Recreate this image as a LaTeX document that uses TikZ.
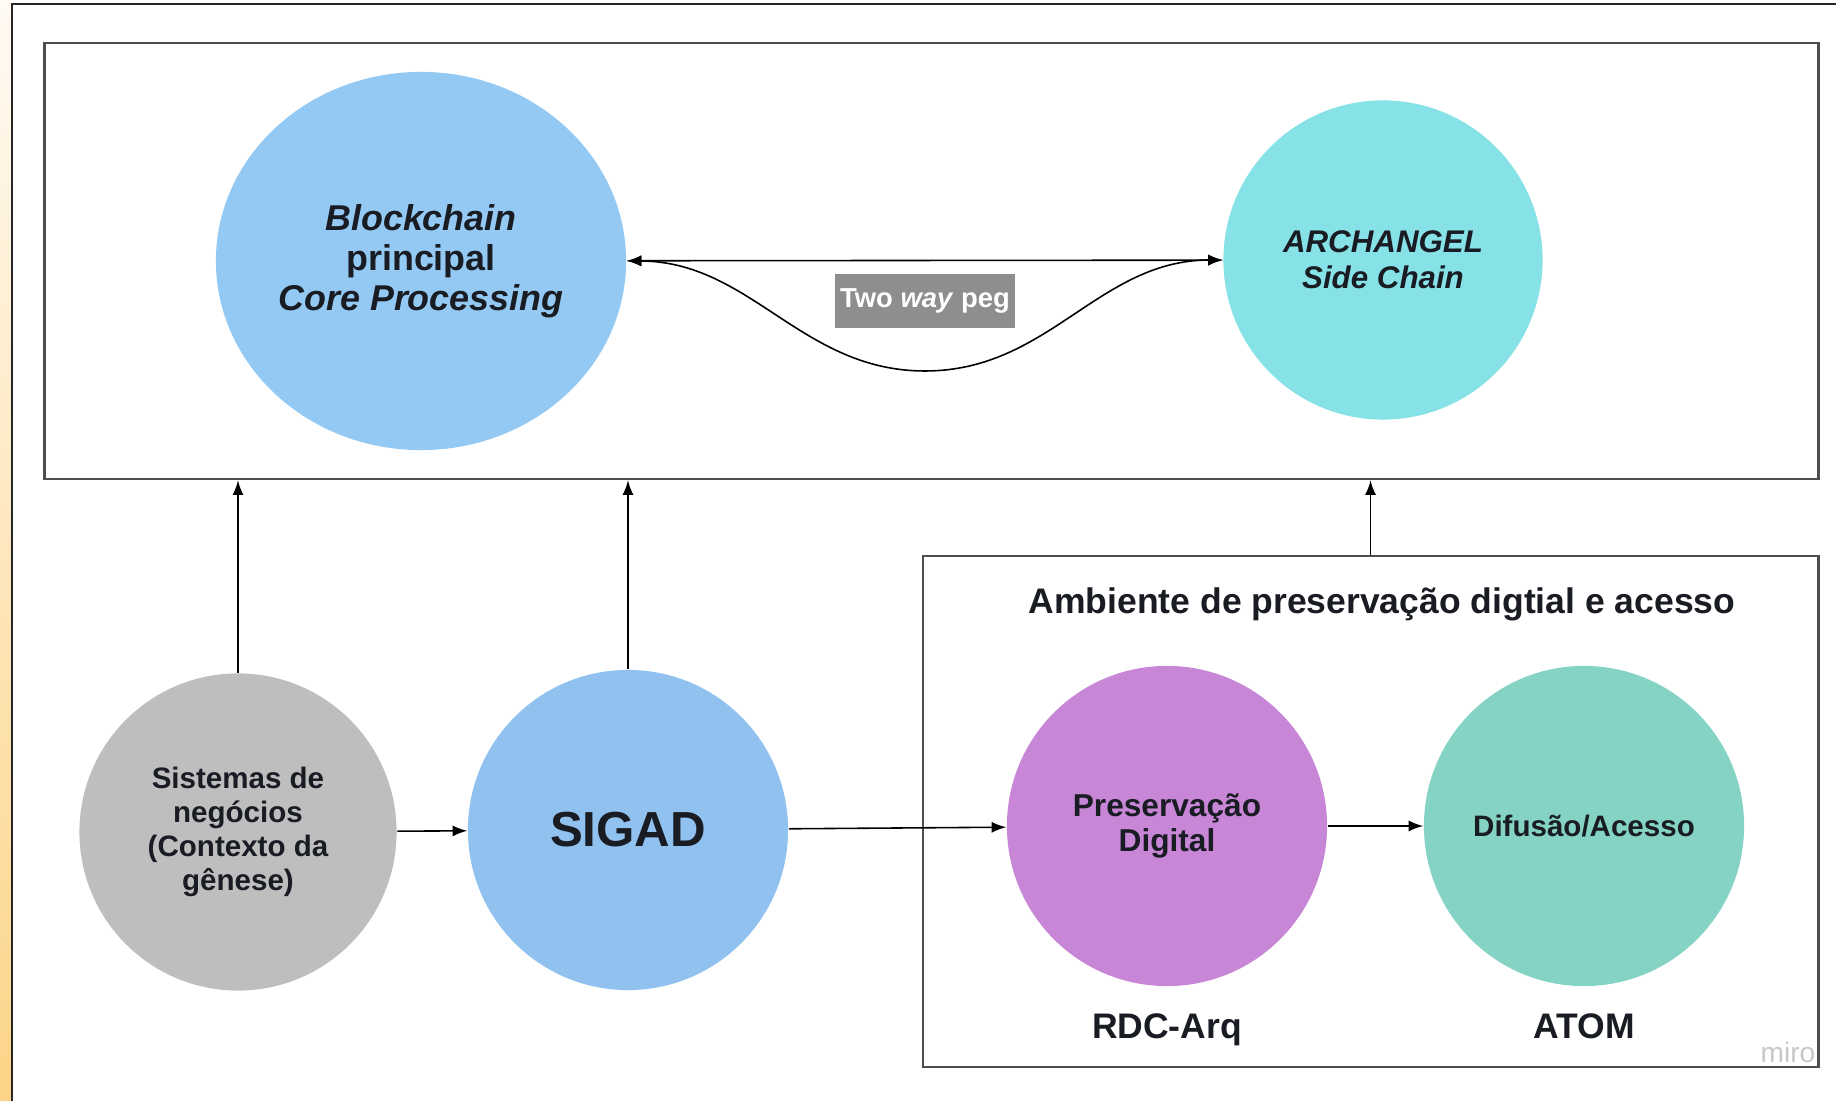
\documentclass[tikz,border=0pt]{standalone}
\usepackage{fontspec}
\setmainfont{Liberation Sans}
\usepackage{tikz}
\usetikzlibrary{shapes.geometric,positioning,arrows}

\definecolor{azulbc}{HTML}{93C9F3}
\definecolor{azulsig}{HTML}{90C1EF}
\definecolor{ciano}{HTML}{86E2E6}
\definecolor{cinza}{HTML}{BEBEBE}
\definecolor{roxo}{HTML}{C886D6}
\definecolor{verde}{HTML}{85D3C4}
\definecolor{rotulo}{HTML}{8E8E8E}
\definecolor{texto}{HTML}{1A1C24}
\definecolor{borda}{HTML}{4E4E4E}
\definecolor{faixatopo}{HTML}{FFFAF3}
\definecolor{faixabase}{HTML}{FCD487}

\begin{document}
\begin{tikzpicture}[
x=0.01cm, y=-0.01cm,
bola/.style={
  circle,
  minimum size=3.2cm,
  inner sep=0pt,
  align=center,
  text=texto,
  font=\bfseries\fontsize{8.4}{9.6}\selectfont
},
caixa/.style={
  draw=borda,
  line width=0.7pt,
  inner sep=0pt
},
seta/.style={
  -latex,
  line width=0.45pt
},
titulo/.style={
  text=texto,
  font=\bfseries\fontsize{10.1}{12}\selectfont
}
]
\useasboundingbox (0,0) rectangle (1836,1101);

% moldura da captura
\shade[top color=faixatopo, middle color=orange!12, bottom color=faixabase] (0,0) rectangle (11,1101);
\draw[line width=0.8pt, black!85] (12,1110) -- (12,4) -- (1845,4);

% caixas
\node[caixa, minimum width=17.73cm, minimum height=4.36cm] (topo) at (931.5,261) {};
\node[caixa, minimum width=8.95cm, minimum height=5.11cm] (amb) at (1370.5,811.5) {};

% cadeia principal e side chain
\node[bola, ellipse, fill=azulbc, minimum width=4.1cm, minimum height=3.78cm,
  font=\bfseries\fontsize{10.2}{11.4}\selectfont] (bc) at (421,261)
  {\textit{Blockchain}\\principal\\\textit{Core Processing}};
\node[bola, fill=ciano, minimum size=3.19cm,
  font=\bfseries\itshape\fontsize{8.9}{10.2}\selectfont] (arch) at (1383,260)
  {ARCHANGEL\\Side Chain};

\coordinate (fundo) at (925,371);
\draw[latex-latex, line width=0.45pt] (bc) -- (arch);
\draw[latex-latex, line width=0.45pt] (bc.east) to[out=0,in=180] (fundo)
  to[out=0,in=180] (arch.west);
\node[fill=rotulo, text=white, minimum width=1.79cm, minimum height=0.53cm,
  inner sep=0pt, font=\bfseries\fontsize{7.8}{9}\selectfont] (peg) at (925,301)
  {Two \textit{way} peg};

% sistemas de origem
\node[bola, fill=cinza, minimum size=3.17cm] (sist) at (238,832)
  {Sistemas de\\negócios\\(Contexto da\\gênese)};
\node[bola, fill=azulsig, font=\bfseries\fontsize{14}{16}\selectfont] (sigad) at (628,830) {SIGAD};

% ambiente de preservacao
\node[titulo] (ambtit) at (1382,604) {Ambiente de preservação digtial e acesso};
\node[bola, fill=roxo, font=\bfseries\fontsize{9}{9.8}\selectfont] (pres) at (1167,826)
  {Preservação\\Digital};
\node[bola, fill=verde] (dif) at (1584,826) {Difusão/Acesso};
\node[titulo, anchor=base] (rdc) at (1167,1039) {RDC-Arq};
\node[titulo, anchor=base] (atom) at (1584,1039) {ATOM};

\draw[seta] (sist) -- (sigad);
\draw[seta] (sigad) -- (pres);
\draw[seta] (pres) -- (dif);

\draw[seta] (sist) -- (sist |- topo.south);
\draw[seta] (sigad) -- (sigad |- topo.south);
\draw[seta] (amb.north) -- (amb.north |- topo.south);

\node[anchor=base east, text=black!22, inner sep=0pt,
  font=\fontsize{8}{9}\selectfont] (miro) at (1816,1063) {miro};
\end{tikzpicture}
\end{document}
